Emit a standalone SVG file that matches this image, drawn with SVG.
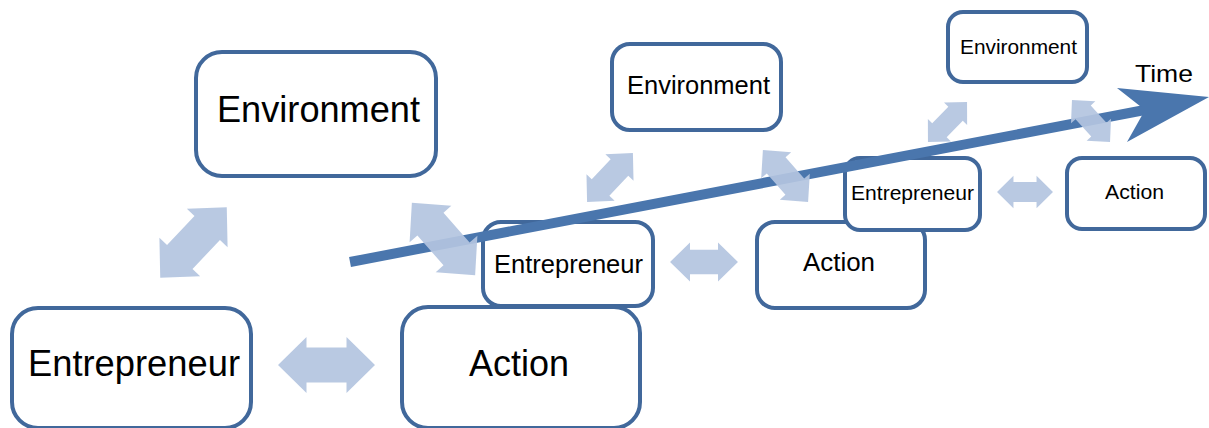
<svg xmlns="http://www.w3.org/2000/svg" xmlns:xlink="http://www.w3.org/1999/xlink" width="1209" height="428" viewBox="0 0 1209 428">
<style>
.box{fill:#fff;stroke:#41689B;stroke-width:4}
.t{font-family:"Liberation Sans",Arial,sans-serif;fill:#000;text-anchor:middle}
.pale{fill:#B3C4DF;opacity:0.92}
</style>
<defs>
<polygon id="dbl" points="-48.5,0 -20,-28 -20,-17.5 20,-17.5 20,-28 48.5,0 20,28 20,17.5 -20,17.5 -20,28"/>
</defs>
<rect width="1209" height="428" fill="#fff"/>
<g id="env1"><rect class="box" x="196" y="52" width="240" height="124" rx="26"/><text class="t" x="318.5" y="122" font-size="36" textLength="203" lengthAdjust="spacingAndGlyphs">Environment</text></g>
<g id="ent1"><rect class="box" x="12" y="308" width="239" height="120" rx="26"/><text class="t" x="134" y="376" font-size="36" textLength="212" lengthAdjust="spacingAndGlyphs">Entrepreneur</text></g>
<g id="ent2"><rect class="box" x="483" y="222" width="170" height="84" rx="18"/><text class="t" x="568.5" y="273" font-size="25.5" textLength="149" lengthAdjust="spacingAndGlyphs">Entrepreneur</text></g>
<g id="act1"><rect class="box" x="402" y="307" width="238" height="121" rx="26"/><text class="t" x="519" y="376" font-size="36" textLength="100" lengthAdjust="spacingAndGlyphs">Action</text></g>
<g id="env2"><rect class="box" x="612" y="44" width="169" height="86" rx="18"/><text class="t" x="698.5" y="94" font-size="25.5" textLength="143" lengthAdjust="spacingAndGlyphs">Environment</text></g>
<g id="act2"><rect class="box" x="757" y="222" width="168" height="86" rx="18"/><text class="t" x="839" y="271" font-size="25.5" textLength="72" lengthAdjust="spacingAndGlyphs">Action</text></g>
<g id="env3"><rect class="box" x="948" y="12" width="139" height="70" rx="15"/><text class="t" x="1018.5" y="53.5" font-size="21" textLength="117" lengthAdjust="spacingAndGlyphs">Environment</text></g>
<g id="ent3"><rect class="box" x="845" y="158" width="135" height="72" rx="15"/><text class="t" x="912.5" y="199.5" font-size="21" textLength="123" lengthAdjust="spacingAndGlyphs">Entrepreneur</text></g>
<g id="act3"><rect class="box" x="1067" y="158" width="138" height="71" rx="15"/><text class="t" x="1134.5" y="198.5" font-size="21" textLength="59" lengthAdjust="spacingAndGlyphs">Action</text></g>
<g id="connectors">
<g id="time">
<line x1="350" y1="262" x2="1150" y2="109" stroke="#4A76AD" stroke-width="10"/>
<polygon points="1209,97 1117,88 1145,110 1127,142" fill="#4A76AD"/>
<text class="t" x="1164" y="82" font-size="24" textLength="58" lengthAdjust="spacingAndGlyphs">Time</text>
</g>
<use href="#dbl" class="pale" transform="translate(326.5,365)"/>
<use href="#dbl" class="pale" transform="translate(193.5,242.5) rotate(-46.7)"/>
<use href="#dbl" class="pale" transform="translate(443.5,239) rotate(48.8) scale(0.99)"/>
<use href="#dbl" class="pale" transform="translate(704,262) scale(0.7)"/>
<use href="#dbl" class="pale" transform="translate(610,177.5) rotate(-46.8) scale(0.69)"/>
<use href="#dbl" class="pale" transform="translate(785.5,176) rotate(49) scale(0.71)"/>
<use href="#dbl" class="pale" transform="translate(1025,192) scale(0.577)"/>
<use href="#dbl" class="pale" transform="translate(947.5,122) rotate(-45.7) scale(0.577)"/>
<use href="#dbl" class="pale" transform="translate(1091,121) rotate(47.9) scale(0.585)"/>
</g>
</svg>
